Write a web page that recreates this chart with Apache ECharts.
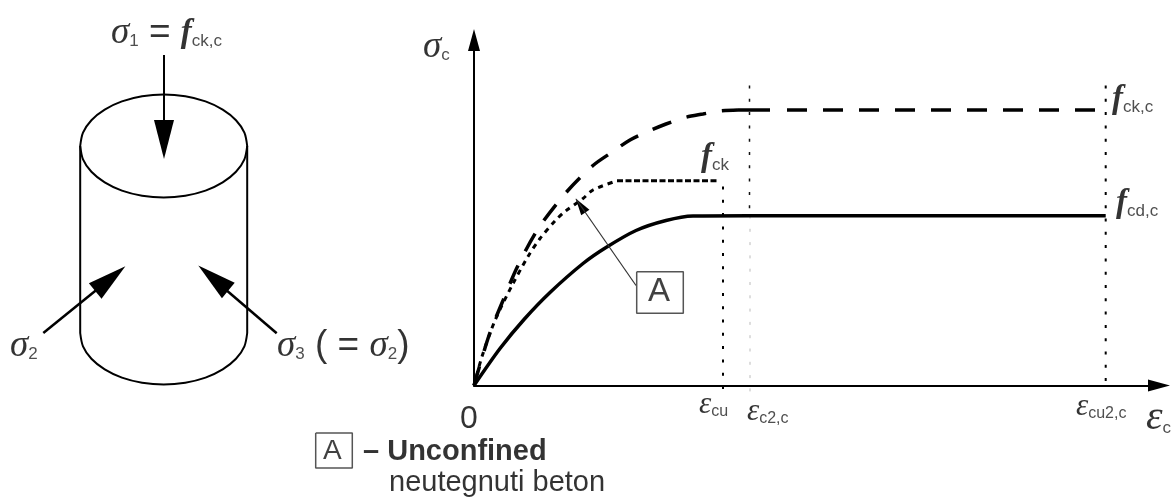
<!DOCTYPE html>
<html>
<head>
<meta charset="utf-8">
<title>Unconfined / confined concrete</title>
<script src="https://cdn.jsdelivr.net/npm/echarts@6/dist/echarts.min.js"></script>
<style>
	html, body { margin: 0; padding: 0; background: #fff; }
	#main { width: 1172px; height: 497px; filter: blur(0.5px); }
</style>
</head>
<body>
<div id="main"></div>
<script>
// stress-strain curves, x = strain, y = stress
const confinedCurve = [[0, 0], [15, 50], [29, 85], [44, 120], [65, 158], [93, 194], [119, 220], [139, 234], [156, 245.5], [174, 254], [192, 261.5], [211, 268], [229, 271.5], [246, 274.5], [264, 275.5]]
const confinedLead = [[264, 275.5], [296, 275.5]]
const confinedFlat = [[313, 275.5], [622.7, 275.5]]
const unconfinedCurve = [[0, 0], [8, 29], [21, 65], [38, 100], [54, 129], [66, 147], [81, 164.5], [91, 174], [109, 187], [119, 195.5], [143, 204.8]]
const unconfinedFlat = [[143, 204.8], [244, 204.8]]
const designCurve = [[0, 0], [26, 37], [50, 66], [76, 93], [109, 122], [132, 138], [162, 155], [192, 165], [219, 169.5], [275, 169.8], [631.7, 169.8]]
const limitCu = [[249, 199], [249, -6]]
const limitC2Upper = [[275.5, 300], [275.5, 170]]
const limitC2Lower = [[276, 170], [276, -6]]
const limitCu2 = [[631.7, 300], [631.7, 0]]
const leaderA = [[102, 186.5], [162, 100]]
const boxA = [[162.7, 113.8], [209.3, 113.8], [209.3, 72.2], [162.7, 72.2], [162.7, 113.8]]
const leaderHead = [[106.5, 180]]

// cylinder, in page units
const rimBack = [[80.2, 146], [83, 132.7], [91.4, 120.2], [104.7, 109.6], [121.9, 101.4], [142.1, 96.3], [163.7, 94.5], [185.3, 96.3], [205.5, 101.4], [222.7, 109.6], [236, 120.2], [244.4, 132.7], [247.2, 146]]
const rimFront = [[80.2, 146], [83, 159.3], [91.4, 171.8], [104.7, 182.4], [121.9, 190.6], [142.1, 195.7], [163.7, 197.5], [185.3, 195.7], [205.5, 190.6], [222.7, 182.4], [236, 171.8], [244.4, 159.3], [247.2, 146]]
const baseFront = [[80.2, 333], [83, 346.3], [91.4, 358.8], [104.7, 369.4], [121.9, 377.6], [142.1, 382.7], [163.7, 384.5], [185.3, 382.7], [205.5, 377.6], [222.7, 369.4], [236, 358.8], [244.4, 346.3], [247.2, 333]]
const wallLeft = [[80.2, 146], [80.2, 333]]
const wallRight = [[247.2, 146], [247.2, 333]]
const arrow1 = [[164, 55], [164, 125]]
const arrow2 = [[43.3, 333], [105, 283]]
const arrow3 = [[276.7, 333.3], [218, 283]]
// centre x, centre y, rotation
const arrowHeads = [[164, 139.5, 180], [110.3, 278.7, -50.7], [213.3, 278, 50.4]]
const legendBox = [[315.7, 433], [352.3, 433], [352.3, 468], [315.7, 468], [315.7, 433]]

const labelTexts = [
	'{s|σ}{sub|1}{eq| = }{f|f}{sub|ck,c}',
	'{s|σ}{sub|c}',
	'{s|σ}{sub|2}',
	'{s|σ}{sub|3}{eq| ( = }{s|σ}{sub|2}{eq|)}',
	'{f|f}{sub|ck}',
	'{f|f}{sub|ck,c}',
	'{f|f}{sub|cd,c}',
	'{e|ε}{sub2|cu}',
	'{e|ε}{sub2|c2,c}',
	'{e|ε}{sub2|cu2,c}',
	'{eb|ε}{sub|c}',
	'{zero|0}',
	'{big|A}',
	'{mid|A}',
	'{bold|– Unconfined}',
	'{reg|neutegnuti beton}'
]
const labelX = [111, 423, 10, 277, 701, 1112, 1116, 699, 747, 1076, 1146, 460, 648, 323, 363, 389]
const labelY = [33, 47, 346, 346, 157, 99, 203, 405, 412, 407, 418, 419, 292, 451, 452, 483]

const main = document.getElementById('main')
let myChart = echarts.init(main)

const lineOf = (data, color, width, type, grid) => ({
	type: 'line',
	data,
	xAxisIndex: grid,
	yAxisIndex: grid,
	symbol: 'none',
	clip: false,
	silent: true,
	animation: false,
	lineStyle: { color, width, type, cap: 'butt' }
})
const curveOf = (data, width, type) => ({
	...lineOf(data, '#000', width, type, 0),
	smooth: 0.3
})
const rimOf = (data) => ({
	...lineOf(data, '#000', 2, 'solid', 1),
	smooth: 0.3
})
const headOf = (data, size, grid) => ({
	type: 'scatter',
	data,
	xAxisIndex: grid,
	yAxisIndex: grid,
	symbol: 'triangle',
	symbolSize: size,
	symbolRotate: (v) => v[2],
	clip: false,
	silent: true,
	animation: false,
	itemStyle: { color: '#000', opacity: 1 }
})

let option = {
	backgroundColor: '#fff',
	textStyle: { fontFamily: 'Liberation Sans' },
	grid: [
		{ left: 474, top: 40, width: 685, height: 345.5 },
		{ left: 0, top: 0, width: 1172, height: 497 }
	],
	xAxis: [
		{
			type: 'value',
			gridIndex: 0,
			min: 0,
			max: 685,
			axisLine: {
				symbol: ['none', 'triangle'],
				symbolSize: [12, 22],
				lineStyle: { color: '#000', width: 2 }
			},
			axisTick: { show: false },
			axisLabel: { show: false },
			splitLine: { show: false }
		},
		{ type: 'value', gridIndex: 1, min: 0, max: 1172, show: false }
	],
	yAxis: [
		{
			type: 'value',
			gridIndex: 0,
			min: 0,
			max: 345.5,
			axisLine: {
				symbol: ['none', 'triangle'],
				symbolSize: [12, 22],
				lineStyle: { color: '#000', width: 2 }
			},
			axisTick: { show: false },
			axisLabel: { show: false },
			splitLine: { show: false }
		},
		{ type: 'value', gridIndex: 1, min: 0, max: 497, inverse: true, show: false }
	],
	series: [
		lineOf(limitCu, '#000', 2, [3, 10.3], 0),
		lineOf(limitC2Upper, '#111', 1.5, [3, 10.3], 0),
		lineOf(limitC2Lower, '#bbb', 1, [3, 10.3], 0),
		lineOf(limitCu2, '#000', 2, [3, 10.3], 0),
		curveOf(designCurve, 3.5, 'solid'),
		curveOf(confinedCurve, 3.5, [20, 16]),
		lineOf(confinedLead, '#000', 3.5, 'solid', 0),
		lineOf(confinedFlat, '#000', 3.5, [20, 16], 0),
		curveOf(unconfinedCurve, 3, [5, 5]),
		lineOf(unconfinedFlat, '#000', 3, [6, 2.5], 0),
		lineOf(leaderA, '#333', 1.2, 'solid', 0),
		headOf(leaderHead.map((p) => [p[0], p[1], 34.6]), [10, 17], 0),
		lineOf(boxA, '#555', 1.5, 'solid', 0),
		rimOf(rimBack),
		rimOf(rimFront),
		rimOf(baseFront),
		lineOf(wallLeft, '#000', 2, 'solid', 1),
		lineOf(wallRight, '#000', 2, 'solid', 1),
		lineOf(arrow1, '#000', 2, 'solid', 1),
		lineOf(arrow2, '#000', 2.5, 'solid', 1),
		lineOf(arrow3, '#000', 2.5, 'solid', 1),
		headOf(arrowHeads, [20, 39], 1),
		lineOf(legendBox, '#555', 1.5, 'solid', 1),
		{
			type: 'scatter',
			xAxisIndex: 1,
			yAxisIndex: 1,
			symbolSize: 1,
			silent: true,
			animation: false,
			itemStyle: { color: 'transparent' },
			data: labelTexts.map((text, i) => ({ value: [labelX[i], labelY[i]], text })),
			label: {
				show: true,
				position: 'inside',
				align: 'left',
				verticalAlign: 'middle',
				color: '#000',
				formatter: (p) => p.data.text,
				rich: {
					s: { fontFamily: 'Liberation Serif', fontStyle: 'italic', fontSize: 37, color: '#000', lineHeight: 34 },
					f: { fontFamily: 'Liberation Serif', fontStyle: 'italic', fontWeight: 'bold', fontSize: 33, color: '#000', lineHeight: 34 },
					e: { fontFamily: 'Liberation Serif', fontStyle: 'italic', fontSize: 31, color: '#000', lineHeight: 30 },
					eb: { fontFamily: 'Liberation Serif', fontStyle: 'italic', fontSize: 42, color: '#000', lineHeight: 38 },
					sub: { fontFamily: 'Liberation Sans', fontSize: 17, color: '#222', verticalAlign: 'bottom', lineHeight: 25 },
					sub2: { fontFamily: 'Liberation Sans', fontSize: 16, color: '#222', verticalAlign: 'bottom', lineHeight: 25 },
					eq: { fontFamily: 'Liberation Sans', fontSize: 37, color: '#000', lineHeight: 34 },
					zero: { fontFamily: 'Liberation Sans', fontSize: 32, color: '#000' },
					big: { fontFamily: 'Liberation Sans', fontSize: 33, color: '#111' },
					mid: { fontFamily: 'Liberation Sans', fontSize: 28, color: '#111' },
					bold: { fontFamily: 'Liberation Sans', fontWeight: 'bold', fontSize: 29, color: '#000' },
					reg: { fontFamily: 'Liberation Sans', fontSize: 29, color: '#000' }
				}
			}
		}
	]
}
myChart.setOption(option)
window.onresize = () => {
	myChart.resize()
}
</script>
</body>
</html>
